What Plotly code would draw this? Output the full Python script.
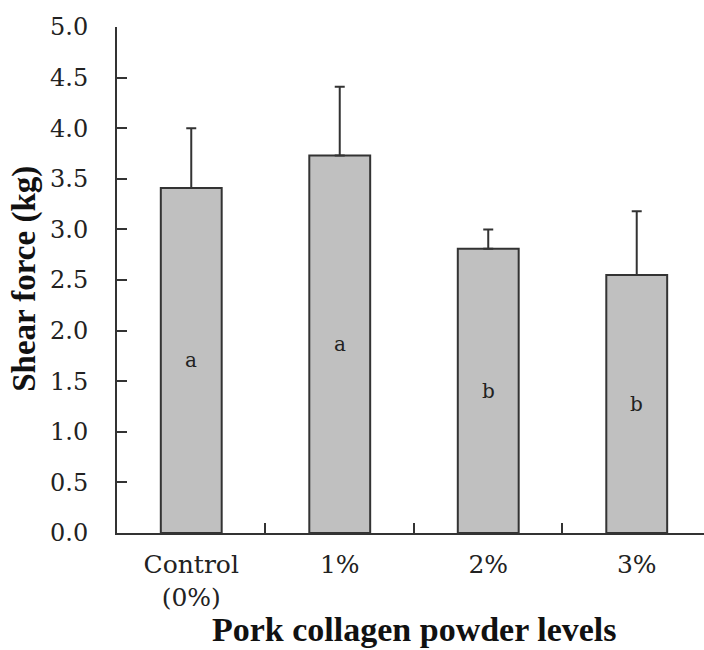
import plotly.graph_objects as go

categories = ["Control<br>(0%)", "1%", "2%", "3%"]
shear_force = [3.41, 3.73, 2.81, 2.55]
sd_upper = [0.59, 0.68, 0.19, 0.63]
letters = ["a", "a", "b", "b"]
y_ticks = [0.0, 0.5, 1.0, 1.5, 2.0, 2.5, 3.0, 3.5, 4.0, 4.5, 5.0]

dark = "#333333"

fig = go.Figure()
fig.add_trace(go.Bar(
    x=categories, y=shear_force, width=0.41,
    marker=dict(color="#c0c0c0", line=dict(color=dark, width=2)),
    error_y=dict(type="data", symmetric=False, array=sd_upper,
                 arrayminus=[0] * len(sd_upper),
                 color=dark, thickness=2, width=5),
    showlegend=False,
))

for c, v, t in zip(categories, shear_force, letters):
    fig.add_annotation(x=c, y=v / 2, text=t, showarrow=False,
                       font=dict(family="DejaVu Serif", size=20, color="#222"))

fig.add_annotation(x=0.507, y=-0.2312, xref="paper", yref="paper",
                   xanchor="center", yanchor="bottom",
                   text="<b>Pork collagen powder levels</b>", showarrow=False,
                   font=dict(family="Liberation Serif", size=34, color="#111"))
fig.add_annotation(x=-0.157, y=0.502, xref="paper", yref="paper",
                   xanchor="center", yanchor="middle",
                   text="<b>Shear force (kg)</b>", showarrow=False, textangle=-90,
                   font=dict(family="Liberation Serif", size=33, color="#111"))

fig.update_layout(
    width=704, height=650,
    margin=dict(l=117, r=0, t=27, b=117),
    plot_bgcolor="white", paper_bgcolor="white",
    xaxis=dict(
        type="category", range=[-0.5, 3.453],
        showline=True, linecolor=dark, linewidth=2,
        ticks="inside", tickson="boundaries", ticklen=10, tickcolor=dark, tickwidth=2,
        ticklabelstandoff=8,
        tickfont=dict(family="DejaVu Serif", size=25, color="#222"),
        showgrid=False, zeroline=False,
    ),
    yaxis=dict(
        range=[0, 5], tickvals=y_ticks,
        ticktext=[f"{v:.1f}" for v in y_ticks],
        showline=True, linecolor=dark, linewidth=2,
        ticks="inside", ticklen=10, tickcolor=dark, tickwidth=2,
        ticklabelstandoff=22,
        tickfont=dict(family="DejaVu Serif", size=24, color="#222"),
        showgrid=False, zeroline=False,
    ),
)

fig.write_html("out.html")
